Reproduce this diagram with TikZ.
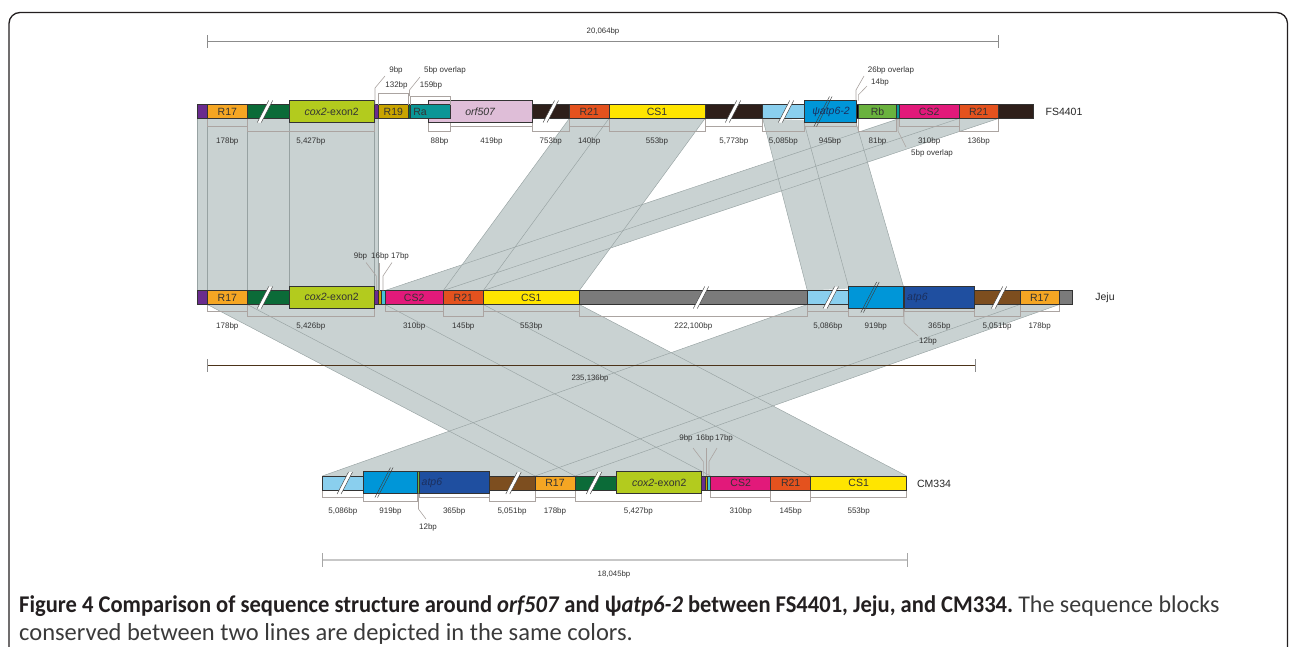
\documentclass[tikz,border=0pt]{standalone}
\usepackage{fontspec}
\setmainfont{Liberation Sans}
\newfontfamily\capfont{Carlito}
\newfontfamily\capfontbc[FakeStretch=0.94]{Carlito}
\usetikzlibrary{calc}
\pgfdeclarelayer{bg}
\pgfsetlayers{bg,main}
\definecolor{cpur}{HTML}{6A2C8E}
\definecolor{cR17}{HTML}{F5A623}
\definecolor{cdg}{HTML}{0B6B38}
\definecolor{ccox}{HTML}{B3CB1E}
\definecolor{cR19}{HTML}{C9A400}
\definecolor{cRa}{HTML}{0A9696}
\definecolor{corf}{HTML}{DFBED8}
\definecolor{cdb}{HTML}{2E1F1A}
\definecolor{cR21}{HTML}{E4521E}
\definecolor{cCS1}{HTML}{FFE500}
\definecolor{clb}{HTML}{8ACFEE}
\definecolor{cbl}{HTML}{0096D8}
\definecolor{cRb}{HTML}{6AB23E}
\definecolor{cCS2}{HTML}{E2197A}
\definecolor{cgr}{HTML}{7B7B7B}
\definecolor{catp}{HTML}{1F4FA0}
\definecolor{cbr}{HTML}{7D4E1F}
\definecolor{ctl}{HTML}{45C3D8}
\definecolor{shadec}{HTML}{C9D2D2}
\definecolor{edgec}{HTML}{97A2A2}
\definecolor{dimc}{HTML}{ABA4A1}
\definecolor{txtc}{HTML}{333333}
\definecolor{navyt}{HTML}{1B2F5E}
\definecolor{capbold}{HTML}{231F20}
\definecolor{capreg}{HTML}{3A3A3A}
\definecolor{framec}{HTML}{231F20}
\tikzset{
  blk/.style={draw=black!80, line width=0.5pt, inner sep=0pt, outer sep=0pt,
    anchor=north west, font=\fontsize{10.5}{12}\selectfont, text=txtc},
  btxt/.style={inner sep=0pt, font=\fontsize{10.5}{12}\selectfont, text=txtc},
  shade/.style={fill=shadec},
  edge/.style={draw=edgec, line width=0.45pt},
  dim/.style={draw=dimc, line width=0.6pt},
  lbl/.style={inner sep=0pt, font=\fontsize{8}{9}\selectfont, text=txtc},
  slbl/.style={inner sep=0pt, font=\fontsize{7.8}{9}\selectfont, text=txtc},
  nm/.style={inner sep=0pt, font=\fontsize{10.5}{12}\selectfont, text=black!85},
  slashln/.style={draw=black!75, line width=0.45pt},
}
% block: name, x1, x2, top, height, colour, text
\newcommand{\blk}[7]{\node[blk, fill=#6, minimum width={(#3-#2)*1pt}, minimum height={#5*1pt}] (#1) at (#2,#4) {#7};}
% bracket: name, x1, x2, ystart, ylevel, label y, text
\newcommand{\dimbr}[7]{\draw[dim] (#2,#4) -- (#2,#5) -- (#3,#5) -- (#3,#4);
  \node[lbl] (#1) at ({(#2+#3)/2},#6) {#7};}
% break mark: x, top, bottom, gap fill options, half gap
\newcommand{\brkmk}[5]{%
  \pgfmathsetmacro{\brkdx}{0.52*((#3-#2)/2+4)}%
  \path[#4] ({#1-#5-\brkdx},{#3+4}) -- ({#1+#5-\brkdx},{#3+4}) -- ({#1+#5+\brkdx},{#2-4}) -- ({#1-#5+\brkdx},{#2-4}) -- cycle;
  \draw[slashln] ({#1-#5-\brkdx},{#3+4}) -- ({#1-#5+\brkdx},{#2-4});
  \draw[slashln] ({#1+#5-\brkdx},{#3+4}) -- ({#1+#5+\brkdx},{#2-4});}
\begin{document}
\begin{tikzpicture}[x=1pt,y=-1pt]
\useasboundingbox (0,0) rectangle (1290,646);
\clip (0,0) rectangle (1290,646);
% frame
\draw[framec, line width=1.3pt, rounded corners=11pt] (9,700) -- (9,12.5) -- (1287.5,12.5) -- (1287.5,700);

% ---------- row 1 : FS4401 ----------
\blk{r1pur}{197.3}{207.3}{104.5}{14}{cpur}{}
\blk{r1R17}{207.3}{247.3}{104.5}{14}{cR17}{R17}
\blk{r1dg}{247.3}{289}{104.5}{14}{cdg}{}
\blk{r1cox}{289}{374.3}{100.5}{22}{ccox}{\textit{cox2}-exon2}
\blk{r1pur2}{374.3}{378.3}{104.5}{14}{cpur}{}
\blk{r1R19}{378.3}{408.3}{104.5}{14}{cR19}{R19}
\blk{r1dg2}{408.3}{410.7}{104.5}{14}{cdg}{}
\blk{r1orf}{428.3}{532.3}{100.5}{22}{corf}{\textit{orf507}}
\blk{r1Ra}{410.7}{450.7}{104.5}{14}{cRa}{}
\node[btxt] (r1Ralbl) at (420,111.5) {Ra};
\blk{r1db1}{532.3}{569.3}{104.5}{14}{cdb}{}
\blk{r1R21a}{569.3}{609}{104.5}{14}{cR21}{R21}
\blk{r1CS1}{609}{705}{104.5}{14}{cCS1}{CS1}
\blk{r1db2}{705}{762.7}{104.5}{14}{cdb}{}
\blk{r1lb}{762.7}{804}{104.5}{14}{clb}{}
\blk{r1psi}{804}{856}{100.5}{22}{cbl}{}
\blk{r1bk}{856}{858.3}{104.5}{14}{black}{}
\blk{r1Rb}{858.3}{896.7}{104.5}{14}{cRb}{Rb}
\blk{r1tl}{896.7}{899.3}{104.5}{14}{cRa}{}
\blk{r1CS2}{899.3}{959}{104.5}{14}{cCS2}{CS2}
\blk{r1R21b}{959}{998.3}{104.5}{14}{cR21}{R21}
\blk{r1db3}{998.3}{1033.3}{104.5}{14}{cdb}{}

% ---------- row 2 : Jeju ----------
\blk{r2pur}{197.3}{207.3}{290.5}{14}{cpur}{}
\blk{r2R17}{207.3}{247.3}{290.5}{14}{cR17}{R17}
\blk{r2dg}{247.3}{289}{290.5}{14}{cdg}{}
\blk{r2cox}{289}{374.3}{286}{22.5}{ccox}{\textit{cox2}-exon2}
\blk{r2pur2}{374.3}{378.3}{290.5}{14}{cpur}{}
\blk{r2ol}{378.3}{381}{290.5}{14}{cR19}{}
\blk{r2tl}{381}{385}{290.5}{14}{ctl}{}
\blk{r2CS2}{385}{443.3}{290.5}{14}{cCS2}{CS2}
\blk{r2R21}{443.3}{483.3}{290.5}{14}{cR21}{R21}
\blk{r2CS1}{483.3}{579.3}{290.5}{14}{cCS1}{CS1}
\blk{r2gr}{579.3}{807.3}{290.5}{14}{cgr}{}
\blk{r2lb}{807.3}{848.3}{290.5}{14}{clb}{}
\blk{r2bl}{848.3}{903.3}{286}{22.5}{cbl}{}
\blk{r2gl}{903.3}{904.7}{286}{22.5}{cRb}{}
\blk{r2atp}{904.7}{974}{286}{22.5}{catp}{}
\blk{r2br}{974}{1020}{290.5}{14}{cbr}{}
\blk{r2R17b}{1020}{1059.3}{290.5}{14}{cR17}{R17}
\blk{r2gr2}{1059.3}{1072.7}{290.5}{14}{cgr}{}

% ---------- row 3 : CM334 ----------
\blk{r3lb}{322.3}{363.3}{476}{14}{clb}{}
\blk{r3bl}{363.3}{417.7}{471.5}{22}{cbl}{}
\blk{r3gl}{417.7}{419.3}{471.5}{22}{cRb}{}
\blk{r3atp}{419.3}{489}{471.5}{22}{catp}{}
\blk{r3br}{489}{535}{476}{14}{cbr}{}
\blk{r3R17}{535}{575}{476}{14}{cR17}{R17}
\blk{r3dg}{575}{616.7}{476}{14}{cdg}{}
\blk{r3cox}{616.7}{701.7}{471.5}{22}{ccox}{\textit{cox2}-exon2}
\blk{r3pur}{701.7}{705}{476}{14}{cpur}{}
\blk{r3ol}{705}{707.3}{476}{14}{cR19}{}
\blk{r3tl}{707.3}{710.7}{476}{14}{ctl}{}
\blk{r3CS2}{710.7}{770.7}{476}{14}{cCS2}{CS2}
\blk{r3R21}{770.7}{810.7}{476}{14}{cR21}{R21}
\blk{r3CS1}{810.7}{906.7}{476}{14}{cCS1}{CS1}

% ---------- shaded homology bands ----------
\begin{pgfonlayer}{bg}
\fill[shade] (r1pur.south west) -- (r1pur2.south east) -- (r2pur2.north east) -- (r2pur.north west) -- cycle;
\fill[shade] (r1R21a.south west) -- (r1CS1.south east) -- (r2CS1.north east) -- (r2R21.north west) -- cycle;
\fill[shade] (r1CS2.south west) -- (r1R21b.south east) -- (r2R21.north east) -- (r2CS2.north west) -- cycle;
\fill[shade] (r1lb.south west) -- (r1psi.south east) -- (r2bl.north east) -- (r2lb.north west) -- cycle;
\fill[shade] (r2R17.south west) -- (r2tl.south east) -- (r3tl.north east) -- (r3R17.north west) -- cycle;
\fill[shade] (r2CS2.south west) -- (r2CS1.south east) -- (r3CS1.north east) -- (r3CS2.north west) -- cycle;
\fill[shade] (r2lb.south west) -- (r2R17b.south east) -- (r3R17.north east) -- (r3lb.north west) -- cycle;
% edges
\draw[edge] (r1pur.south west) -- (r2pur.north west);
\draw[edge] (r1R17.south west) -- (r2R17.north west);
\draw[edge] (r1R17.south east) -- (r2R17.north east);
\draw[edge] (r1cox.south west) -- (r2cox.north west);
\draw[edge] (r1cox.south east) -- (r2cox.north east);
\draw[edge] (r1pur2.south east) -- (r2pur2.north east);
\draw[edge] (r1R21a.south west) -- (r2R21.north west);
\draw[edge] (r1CS1.south west) -- (r2CS1.north west);
\draw[edge] (r1CS1.south east) -- (r2CS1.north east);
\draw[edge] (r1CS2.south west) -- (r2CS2.north west);
\draw[edge] (r1R21b.south west) -- (r2R21.north west);
\draw[edge] (r1R21b.south east) -- (r2R21.north east);
\draw[edge] (r1lb.south west) -- (r2lb.north west);
\draw[edge] (r1psi.south west) -- (r2bl.north west);
\draw[edge] (r1psi.south east) -- (r2bl.north east);
\draw[edge] (r2R17.south west) -- (r3R17.north west);
\draw[edge] (r2dg.south west) -- (r3dg.north west);
\draw[edge] (r2CS2.south west) -- (r3CS2.north west);
\draw[edge] (r2CS1.south west) -- (r3CS1.north west);
\draw[edge] (r2CS1.south east) -- (r3CS1.north east);
\draw[edge] (r2lb.south west) -- (r3lb.north west);
\draw[edge] (r2R17b.south west) -- (r3R17.north west);
\draw[edge] (r2R17b.south east) -- (r3R17.north east);
% brackets row 1
\dimbr{l101}{207.3}{247.3}{118.5}{126.5}{141}{178bp}
\dimbr{l102}{247.3}{374.3}{118.5}{131}{141}{5,427bp}
\dimbr{l103}{428.3}{450.7}{118.5}{131}{141}{88bp}
\dimbr{l104}{450.7}{532.3}{118.5}{126.5}{141}{419bp}
\dimbr{l105}{532.3}{569.3}{118.5}{131}{141}{753bp}
\dimbr{l106}{569.3}{609}{118.5}{126.5}{141}{140bp}
\dimbr{l107}{609}{705}{118.5}{131}{141}{553bp}
\dimbr{l108}{705}{762.7}{118.5}{126.5}{141}{5,773bp}
\dimbr{l109}{762.7}{804}{118.5}{131}{141}{5,085bp}
\dimbr{l110}{804}{856}{118.5}{126.5}{141}{945bp}
\dimbr{l111}{858.3}{896.7}{118.5}{131}{141}{81bp}
\dimbr{l112}{899.3}{959}{118.5}{126.5}{141}{310bp}
\dimbr{l113}{959}{998.3}{118.5}{131}{141}{136bp}
% brackets row 2
\dimbr{l201}{207.3}{247.3}{304.5}{311.5}{326}{178bp}
\dimbr{l202}{247.3}{374.3}{304.5}{316.5}{326}{5,426bp}
\dimbr{l203}{385}{443.3}{304.5}{311.5}{326}{310bp}
\dimbr{l204}{443.3}{483.3}{304.5}{316.5}{326}{145bp}
\dimbr{l205}{483.3}{579.3}{304.5}{311.5}{326}{553bp}
\dimbr{l206}{579.3}{807.3}{304.5}{316.5}{326}{222,100bp}
\dimbr{l207}{807.3}{848.3}{304.5}{311.5}{326}{5,086bp}
\dimbr{l208}{848.3}{903.3}{304.5}{316.5}{326}{919bp}
\dimbr{l209}{904.7}{974}{304.5}{311.5}{326}{365bp}
\dimbr{l210}{974}{1020}{304.5}{316.5}{326}{5,051bp}
\dimbr{l211}{1020}{1059.3}{304.5}{311.5}{326}{178bp}
% brackets row 3
\dimbr{l301}{322.3}{363.3}{490}{497}{511.5}{5,086bp}
\dimbr{l302}{363.3}{417.7}{490}{501.5}{511.5}{919bp}
\dimbr{l303}{419.3}{489}{490}{497}{511.5}{365bp}
\dimbr{l304}{489}{535}{490}{501.5}{511.5}{5,051bp}
\dimbr{l305}{535}{575}{490}{497}{511.5}{178bp}
\dimbr{l306}{575}{701.7}{490}{501.5}{511.5}{5,427bp}
\dimbr{l307}{710.7}{770.7}{490}{497}{511.5}{310bp}
\dimbr{l308}{770.7}{810.7}{490}{501.5}{511.5}{145bp}
\dimbr{l309}{810.7}{906.7}{490}{497}{511.5}{553bp}
\end{pgfonlayer}

% ---------- break marks ----------
\brkmk{265}{104.5}{118.5}{fill=white}{2}
\brkmk{550.8}{104.5}{118.5}{fill=white}{2}
\brkmk{733}{104.5}{118.5}{fill=white}{2}
\brkmk{786}{104.5}{118.5}{fill=white}{2}
\brkmk{823}{100.5}{122.5}{}{1.3}
\brkmk{265}{290.5}{304.5}{fill=white}{2}
\brkmk{701}{290.5}{304.5}{fill=white}{2}
\brkmk{830.8}{290.5}{304.5}{fill=white}{2}
\brkmk{870}{286}{308.5}{}{1.3}
\brkmk{999}{290.5}{304.5}{fill=white}{2}
\brkmk{344.8}{476}{490}{fill=white}{2}
\brkmk{384}{471.5}{493.5}{}{1.3}
\brkmk{513.5}{476}{490}{fill=white}{2}
\brkmk{594}{476}{490}{fill=white}{2}

% gene labels in dark blue boxes
\node[btxt, text=navyt] (r1psilbl) at (831,111.5) {\textit{ψatp6-2}};
\node[btxt, text=navyt, anchor=west] (r2atplbl) at (907,297.5) {\textit{atp6}};
\node[btxt, text=navyt, anchor=west] (r3atplbl) at (421.5,483) {\textit{atp6}};

% line names
\node[nm] (nFS) at (1064,111.5) {FS4401};
\node[nm] (nJeju) at (1105,297.5) {Jeju};
\node[nm] (nCM) at (934,484) {CM334};

% ---------- leaders above / below ----------
\draw[dim] (375,104.5) -- (375,88) -- (385,76);
\node[lbl] (t9a) at (396,70) {9bp};
\draw[dim] (378.3,104.5) -- (378.3,93.3) -- (408.3,93.3) -- (408.3,104.5);
\node[lbl] (t132) at (396.5,85) {132bp};
\draw[dim] (410.7,104.5) -- (410.7,96) -- (450.7,96) -- (450.7,104.5);
\node[lbl] (t159) at (431,85) {159bp};
\draw[dim] (409.5,96) -- (409.5,90) -- (420,77);
\node[lbl] (t5ova) at (445,70) {5bp overlap};
\draw[dim] (856,100.5) -- (856,90) -- (864,76);
\node[lbl] (t26) at (891,70) {26bp overlap};
\draw[dim] (858.3,100.5) -- (858.3,95) -- (867,86);
\node[lbl] (t14) at (880,82) {14bp};
\draw[dim] (898,118.5) -- (898,131) -- (906,147);
\node[lbl] (t5ovb) at (932,153.5) {5bp overlap};

\draw[dim] (376.3,290.5) -- (376.3,276) -- (366,262.5);
\draw[dim] (379.7,290.5) -- (379.7,262.5);
\draw[dim] (383,290.5) -- (383,276) -- (392,262.5);
\node[lbl] (t9b) at (360.5,256.7) {9bp};
\node[lbl] (t16b) at (380,256.7) {16bp};
\node[lbl] (t17b) at (400,256.7) {17bp};
\draw[dim] (904,308.5) -- (904,323) -- (918,336);
\node[lbl] (t12a) at (928,341) {12bp};

\draw[dim] (703.3,476) -- (703.3,461.5) -- (693,448);
\draw[dim] (706.2,476) -- (706.2,448);
\draw[dim] (709,476) -- (709,461.5) -- (717,448);
\node[lbl] (t9c) at (686,438.5) {9bp};
\node[lbl] (t16c) at (705,438.5) {16bp};
\node[lbl] (t17c) at (724,438.5) {17bp};
\draw[dim] (418.5,493.5) -- (418.5,509) -- (426,519);
\node[lbl] (t12b) at (428,527) {12bp};

% ---------- scale bars ----------
\coordinate (s1a) at (207,41); \coordinate (s1b) at (998,41);
\draw[draw=black!45, line width=0.8pt] (s1a) -- (s1b);
\draw[draw=black!45, line width=0.8pt] (207,35) -- (207,48) (998,35) -- (998,48);
\node[slbl] (sc1) at (603,31) {20,064bp};
\coordinate (s2a) at (207,365); \coordinate (s2b) at (975,365);
\draw[draw=black!60!brown, line width=0.9pt] (s2a) -- (s2b);
\draw[draw=black!45, line width=0.8pt] (207,359) -- (207,372) (975,359) -- (975,372);
\node[slbl] (sc2) at (590,378) {235,136bp};
\coordinate (s3a) at (322,560); \coordinate (s3b) at (907,560);
\draw[draw=black!22, line width=1.4pt] (s3a) -- (s3b);
\draw[draw=black!35, line width=0.8pt] (322,553) -- (322,567) (907,553) -- (907,567);
\node[slbl] (sc3) at (614,574) {18,045bp};

% ---------- caption ----------
\node[anchor=base west, inner sep=0pt, text=capbold] (cap1) at (19,612)
  {\capfontbc\fontsize{24}{27}\selectfont\bfseries Figure 4 Comparison of sequence structure around \textit{orf507} and ψ\textit{atp6-2} between FS4401, Jeju, and CM334.\ {\capfont\mdseries\color{capreg}The sequence blocks}};
\node[anchor=base west, inner sep=0pt, text=capreg] (cap2) at (19,640)
  {\capfont\fontsize{24.5}{27}\selectfont conserved between two lines are depicted in the same colors.};
\end{tikzpicture}
\end{document}
